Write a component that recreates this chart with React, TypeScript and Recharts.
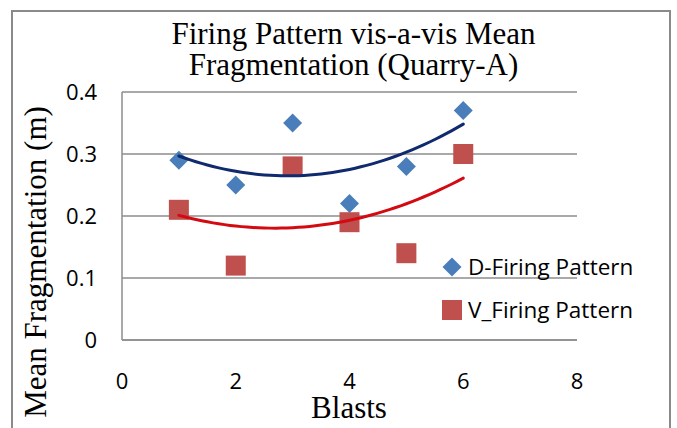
import React from 'react';
import {
  ScatterChart,
  Scatter,
  XAxis,
  YAxis,
  CartesianGrid,
  Legend,
} from 'recharts';

// Blast numbers and mean fragmentation (m) for each firing pattern
const blasts = [1, 2, 3, 4, 5, 6];
const dFiring = [0.29, 0.25, 0.35, 0.22, 0.28, 0.37];
const vFiring = [0.21, 0.12, 0.28, 0.19, 0.14, 0.3];

const xTicks = [0, 2, 4, 6, 8];
const yTicks = [0, 0.1, 0.2, 0.3, 0.4];

const titleLines = ['Firing Pattern vis-a-vis Mean', 'Fragmentation (Quarry-A)'];
const xTitle = 'Blasts';
const yTitle = 'Mean Fragmentation (m)';
const dName = 'D-Firing Pattern';
const vName = 'V_Firing Pattern';

const D_COLOR = '#4a7ebb';
const V_COLOR = '#c0504d';
const D_TREND = '#0f2a6e';
const V_TREND = '#d40a12';
const GRID = '#8c8c8c';
const SERIF = '"Liberation Serif", "Times New Roman", serif';
const SANS = '"Open Sans", "Noto Sans", sans-serif';
const SERIF_SIZE = 31;

const toPoints = (xs: number[], ys: number[]) => xs.map((x, i) => ({ x, y: ys[i] }));

// Least-squares second-order polynomial trendline through the points
function quadTrend(xs: number[], ys: number[]) {
  const n = xs.length;
  let s1 = 0, s2 = 0, s3 = 0, s4 = 0, t0 = 0, t1 = 0, t2 = 0;
  xs.forEach((x, i) => {
    const y = ys[i];
    s1 += x; s2 += x * x; s3 += x ** 3; s4 += x ** 4;
    t0 += y; t1 += x * y; t2 += x * x * y;
  });
  // Solve the 3x3 normal equations by Cramer's rule
  const det = (m: number[][]) =>
    m[0][0] * (m[1][1] * m[2][2] - m[1][2] * m[2][1]) -
    m[0][1] * (m[1][0] * m[2][2] - m[1][2] * m[2][0]) +
    m[0][2] * (m[1][0] * m[2][1] - m[1][1] * m[2][0]);
  const A = [[n, s1, s2], [s1, s2, s3], [s2, s3, s4]];
  const B = [t0, t1, t2];
  const D = det(A);
  const coef = [0, 1, 2].map((c) => det(A.map((row, r) => row.map((v, k) => (k === c ? B[r] : v)))) / D);
  const lo = Math.min(...xs);
  const hi = Math.max(...xs);
  const steps = 50;
  const pts = [];
  for (let i = 0; i <= steps; i++) {
    const x = lo + ((hi - lo) * i) / steps;
    pts.push({ x, y: coef[0] + coef[1] * x + coef[2] * x * x });
  }
  return pts;
}

const dPoints = toPoints(blasts, dFiring);
const vPoints = toPoints(blasts, vFiring);
const dTrend = quadTrend(blasts, dFiring);
const vTrend = quadTrend(blasts, vFiring);

const Diamond = (props: any) => {
  const { cx, cy } = props;
  const r = 9.5;
  return <path d={`M${cx},${cy - r}L${cx + r},${cy}L${cx},${cy + r}L${cx - r},${cy}Z`} fill={D_COLOR} />;
};

const Square = (props: any) => {
  const { cx, cy } = props;
  const h = 10;
  return <rect x={cx - h} y={cy - h} width={2 * h} height={2 * h} fill={V_COLOR} />;
};

const NoDot = () => <g />;

const LegendBox = () => (
  <div style={{ fontFamily: SANS, fontSize: 22.5, color: '#000', lineHeight: '30px', whiteSpace: 'nowrap' }}>
    <div style={{ display: 'flex', alignItems: 'center', height: 30, marginBottom: 13 }}>
      <svg width={22} height={22} style={{ marginRight: 5 }}>
        <path d="M11,1.5L20.5,11L11,20.5L1.5,11Z" fill={D_COLOR} />
      </svg>
      <span>{dName}</span>
    </div>
    <div style={{ display: 'flex', alignItems: 'center', height: 30 }}>
      <svg width={22} height={22} style={{ marginRight: 5 }}>
        <rect x={1} y={1} width={20} height={20} fill={V_COLOR} />
      </svg>
      <span>{vName}</span>
    </div>
  </div>
);

const YLabel = () => (
  <text
    transform="translate(46,262) rotate(-90)"
    textAnchor="middle"
    fontFamily={SERIF}
    fontSize={SERIF_SIZE}
    fill="#000"
  >
    {yTitle}
  </text>
);

const XLabel = () => (
  <text x={349} y={418} textAnchor="middle" fontFamily={SERIF} fontSize={SERIF_SIZE} fill="#000">
    {xTitle}
  </text>
);

export default function App() {
  return (
    <div style={{ position: 'absolute', left: 0, top: 0, width: 677, height: 428, overflow: 'hidden', background: '#fff' }}>
      <div
        style={{
          position: 'absolute',
          left: 11,
          top: 10,
          width: 660,
          height: 440,
          border: '2px solid #8a8a8a',
          boxSizing: 'border-box',
        }}
      />
      <svg style={{ position: 'absolute', left: 0, top: 0 }} width={677} height={90}>
        {titleLines.map((t, i) => (
          <text
            key={t}
            x={353.5}
            y={44 + i * 31}
            textAnchor="middle"
            fontFamily={SERIF}
            fontSize={SERIF_SIZE}
            fill="#000"
          >
            {t}
          </text>
        ))}
      </svg>
      <div style={{ position: 'absolute', left: 0, top: 0 }}>
        <ScatterChart width={677} height={428} margin={{ top: 92, right: 100, bottom: 0, left: 0 }}>
          <CartesianGrid horizontal vertical={false} stroke={GRID} strokeWidth={1.5} />
          <XAxis
            type="number"
            dataKey="x"
            domain={[0, 8]}
            ticks={xTicks}
            height={88}
            axisLine={{ stroke: GRID, strokeWidth: 1.5 }}
            tickLine={false}
            tickSize={0}
            tickMargin={33}
            tick={{ fontFamily: SANS, fontSize: 22, fill: '#000' }}
            label={{ content: XLabel }}
          />
          <YAxis
            type="number"
            dataKey="y"
            domain={[0, 0.4]}
            ticks={yTicks}
            width={122}
            axisLine={{ stroke: GRID, strokeWidth: 1.5 }}
            tickLine={false}
            tickSize={0}
            tickMargin={25}
            tick={{ fontFamily: SANS, fontSize: 22, fill: '#000' }}
            label={{ content: YLabel }}
          />
          <Scatter name={dName} data={dPoints} shape={Diamond} isAnimationActive={false} />
          <Scatter name={vName} data={vPoints} shape={Square} isAnimationActive={false} />
          <Scatter
            data={dTrend}
            shape={NoDot}
            line={{ stroke: D_TREND, strokeWidth: 3, strokeLinecap: 'round' }}
            lineType="joint"
            legendType="none"
            isAnimationActive={false}
          />
          <Scatter
            data={vTrend}
            shape={NoDot}
            line={{ stroke: V_TREND, strokeWidth: 3, strokeLinecap: 'round' }}
            lineType="joint"
            legendType="none"
            isAnimationActive={false}
          />
          <Legend
            layout="vertical"
            align="center"
            verticalAlign="middle"
            content={LegendBox}
            wrapperStyle={{ left: 441, top: 252, width: 'auto' }}
          />
        </ScatterChart>
      </div>
    </div>
  );
}
